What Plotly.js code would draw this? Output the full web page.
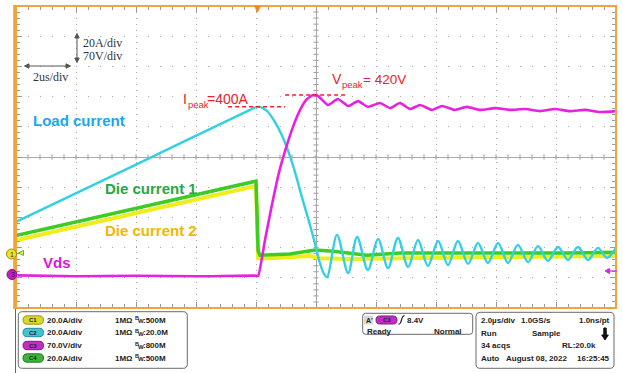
<!DOCTYPE html>
<html><head><meta charset="utf-8">
<script src="https://cdn.plot.ly/plotly-3.0.1.min.js"></script>
<style>html,body{margin:0;padding:0;background:#fff;}#chart{width:623px;height:373px;}</style>
</head><body><div id="chart"></div>
<script>
// time in microseconds (2 us/div), amplitude in screen divisions
const loadT = [-10.00, -6.00, -2.20, -2.03, -1.90, -1.77, -1.60, -1.37, -1.13, -0.93, -0.70, -0.47, -0.23, -0.03, 0.13, 0.27, 0.37, 0.70, 1.07, 1.37, 1.73, 2.07, 2.40, 2.73, 3.07, 3.40, 3.73, 4.07, 4.40, 4.73, 5.07, 5.40, 5.73, 6.07, 6.40, 6.73, 7.07, 7.40, 7.73, 8.07, 8.40, 8.73, 9.07, 9.40, 9.70, 10.00];
const loadY = [-2.15, -0.25, 1.56, 1.64, 1.66, 1.62, 1.49, 1.16, 0.70, 0.20, -0.50, -1.33, -2.15, -2.88, -3.51, -3.88, -3.98, -2.58, -3.84, -2.65, -3.74, -2.72, -3.68, -2.68, -3.64, -2.75, -3.61, -2.78, -3.58, -2.78, -3.54, -2.85, -3.51, -2.85, -3.51, -2.91, -3.48, -2.95, -3.44, -2.98, -3.41, -2.98, -3.41, -3.01, -3.34, -3.00];

const vdsT = [-9.95, -8.00, -6.00, -4.00, -2.00, -1.93, -1.70, -1.47, -1.23, -1.00, -0.77, -0.53, -0.30, -0.10, 0.07, 0.40, 0.73, 1.07, 1.40, 1.73, 2.13, 2.47, 2.80, 3.13, 3.47, 3.87, 4.20, 4.63, 5.03, 5.47, 5.97, 6.47, 6.97, 7.47, 7.97, 8.47, 8.97, 9.47, 10.00];
const vdsY = [-3.92, -3.95, -3.93, -3.95, -3.93, -3.94, -2.75, -1.59, -0.50, 0.30, 0.99, 1.56, 1.92, 2.05, 2.02, 1.72, 1.92, 1.69, 1.85, 1.66, 1.79, 1.62, 1.79, 1.59, 1.72, 1.56, 1.69, 1.56, 1.66, 1.56, 1.62, 1.56, 1.59, 1.52, 1.59, 1.52, 1.56, 1.49, 1.52];

const die1T = [-10.00, -2.00, -1.93, -1.87, -0.87, -0.03, 0.57, 1.70, 2.80, 4.47, 6.13, 8.37, 10.00];
const die1Y = [-2.60, -0.80, -3.10, -3.25, -3.21, -3.08, -3.12, -3.25, -3.18, -3.18, -3.18, -3.18, -3.15];

const die2T = [-10.00, -2.00, -1.93, -1.53, -0.20, 0.13, 1.13, 2.80, 6.13, 10.00];
const die2Y = [-2.76, -0.96, -3.35, -3.35, -3.28, -3.35, -3.38, -3.35, -3.31, -3.28];

const labels = {load: 'Load current', die1: 'Die current 1', die2: 'Die current 2', vds: 'Vds'};
const ipeakParts = ['I', 'peak', '=400A'];
const vpeakParts = ['V', 'peak', '= 420V'];

const chRows = [
  {ch: 'C1', scale: '20.0A/div', imp: '1M\u03A9', bw: '500M', fill: '#d8d82a', edge: '#9a9a10'},
  {ch: 'C2', scale: '20.0A/div', imp: '1M\u03A9', bw: '20.0M', fill: '#40c4d0', edge: '#2a8a94'},
  {ch: 'C3', scale: '70.0V/div', imp: '', bw: '800M', fill: '#c42cc4', edge: '#801880'},
  {ch: 'C4', scale: '20.0A/div', imp: '1M\u03A9', bw: '500M', fill: '#3cb43c', edge: '#207a20'}
];

// ---- layout helpers (pixel -> paper) ----
const L = 16, T = 6, W = 600, H = 302;
const px = x => (x - L) / W;
const py = y => (T + H - y) / H;
const shapes = [];
const ann = [];
function txt(x, y, text, o) {
  o = o || {};
  ann.push({xref: 'paper', yref: 'paper', x: px(x), y: py(y), text: text, showarrow: false,
    xanchor: o.xa || 'left', yanchor: 'middle', borderpad: 0,
    font: {family: o.fam || 'Liberation Sans, Arial, sans-serif', size: o.size || 8, color: o.color || '#222'}});
}
function rr(x0, y0, x1, y1, r, line, fill, lw) {
  const P = (x, y) => px(x).toFixed(5) + ',' + py(y).toFixed(5);
  const d = 'M' + P(x0 + r, y0) + ' L' + P(x1 - r, y0) + ' Q' + P(x1, y0) + ' ' + P(x1, y0 + r) +
    ' L' + P(x1, y1 - r) + ' Q' + P(x1, y1) + ' ' + P(x1 - r, y1) + ' L' + P(x0 + r, y1) +
    ' Q' + P(x0, y1) + ' ' + P(x0, y1 - r) + ' L' + P(x0, y0 + r) + ' Q' + P(x0, y0) + ' ' + P(x0 + r, y0) + ' Z';
  shapes.push({type: 'path', xref: 'paper', yref: 'paper', path: d, line: {color: line, width: lw || 1}, fillcolor: fill || 'rgba(0,0,0,0)', layer: 'above'});
}
function poly(pts, fill, line) {
  const d = pts.map((p, i) => (i ? 'L' : 'M') + px(p[0]).toFixed(5) + ',' + py(p[1]).toFixed(5)).join(' ') + ' Z';
  shapes.push({type: 'path', xref: 'paper', yref: 'paper', path: d, fillcolor: fill, line: {color: line || fill, width: 1}, layer: 'above'});
}
function seg(x0, y0, x1, y1, color, w) {
  shapes.push({type: 'line', xref: 'paper', yref: 'paper', x0: px(x0), y0: py(y0), x1: px(x1), y1: py(y1), line: {color: color, width: w || 1}, layer: 'above'});
}

// center-cross graticule ticks
for (let k = -25; k <= 25; k++) {
  const yv = k * 0.2;
  shapes.push({type: 'line', xref: 'x', yref: 'y', x0: -0.085, x1: 0.085, y0: yv, y1: yv, line: {color: '#9a9a9a', width: 1}, layer: 'below'});
  const xv = k * 0.4;
  shapes.push({type: 'line', xref: 'x', yref: 'y', x0: xv, x1: xv, y0: -0.085, y1: 0.085, line: {color: '#9a9a9a', width: 1}, layer: 'below'});
}

// peak marker dashed lines (at the traces' maxima)
const iPk = Math.max(...loadY), vPk = Math.max(...vdsY);
shapes.push({type: 'line', xref: 'x', yref: 'y', x0: -2.93, x1: -1.03, y0: iPk, y1: iPk, line: {color: '#e8232a', width: 1.5, dash: '4px,3px'}, layer: 'above'});
shapes.push({type: 'line', xref: 'x', yref: 'y', x0: -1.03, x1: 1.07, y0: vPk, y1: vPk, line: {color: '#e8232a', width: 1.5, dash: '4px,3px'}, layer: 'above'});

// orange frame
shapes.push({type: 'rect', xref: 'paper', yref: 'paper', x0: 0, x1: 1, y0: 0, y1: 1, line: {color: '#f2a33a', width: 2}, layer: 'above'});
seg(14.7, 5, 14.7, 309, '#f2a33a', 3);
seg(15.5, 309, 15.5, 373, '#666', 1);

// trigger marker
poly([[254.5, 6], [260.5, 6], [257.5, 12]], '#f08a20');

// ground markers
shapes.push({type: 'circle', xref: 'paper', yref: 'paper', x0: px(6.5), x1: px(16.5), y0: py(249), y1: py(259), fillcolor: '#eee030', line: {color: '#a09000', width: 1}, layer: 'above'});
txt(9.3, 254.3, '1', {size: 7, color: '#333'});
shapes.push({type: 'circle', xref: 'paper', yref: 'paper', x0: px(7), x1: px(17), y0: py(269.5), y1: py(279.5), fillcolor: '#c020c0', line: {color: '#801080', width: 1}, layer: 'above'});
txt(9.8, 274.8, '3', {size: 7, color: '#400040'});
poly([[18.5, 253], [23.5, 250.5], [23.5, 255.5]], '#e8f040', '#50c030');
// right-side offset arrow
poly([[605, 271], [609.5, 268.5], [609.5, 273.5]], '#e020e0');
seg(609, 271, 617, 271, '#e020e0', 1.2);

// scale arrows top-left (double-headed)
seg(77, 37, 77, 59, '#555', 1);
poly([[77, 33.5], [74.8, 38], [79.2, 38]], '#555');
poly([[77, 62.5], [74.8, 58], [79.2, 58]], '#555');
seg(28, 66, 67, 66, '#555', 1);
poly([[24.5, 66], [29, 63.8], [29, 68.2]], '#555');
poly([[70.5, 66], [66, 63.8], [66, 68.2]], '#555');
const serif = 'Liberation Serif, Times New Roman, serif';
txt(82, 43, '20A/div', {fam: serif, size: 12, color: '#333'});
txt(82, 56, '70V/div', {fam: serif, size: 12, color: '#333'});
txt(32, 77, '2us/div', {fam: serif, size: 12, color: '#333'});

// trace labels
txt(32, 120, '<b>' + labels.load + '</b>', {size: 15, color: '#1aa9e6'});
txt(104, 188, '<b>' + labels.die1 + '</b>', {size: 15, color: '#25a848'});
txt(104, 230, '<b>' + labels.die2 + '</b>', {size: 15, color: '#f2b705'});
txt(42, 262, '<b>' + labels.vds + '</b>', {size: 15, color: '#e014d8'});
const red = '#e8232a';
txt(182, 99, ipeakParts[0], {size: 14, color: red});
txt(187.3, 104, ipeakParts[1], {size: 9.5, color: red});
txt(206, 99, ipeakParts[2], {size: 14, color: red});
txt(331, 79, vpeakParts[0], {size: 14, color: red});
txt(341, 84, vpeakParts[1], {size: 9.5, color: red});
txt(361.5, 79, vpeakParts[2], {size: 13.5, color: red});

// ---- bottom status panels ----
rr(18.3, 311.7, 187.3, 368.3, 4, '#6a6a6a');
const rowY = [320, 332.5, 345.5, 358];
chRows.forEach((r, i) => {
  const y = rowY[i];
  rr(23, y - 4.2, 43.5, y + 4.2, 4.2, r.edge, r.fill);
  txt(33.2, y, '<b>' + r.ch + '</b>', {size: 6, color: '#222', xa: 'center'});
  txt(46, y, '<b>' + r.scale + '</b>');
  if (r.imp) txt(114, y, '<b>' + r.imp + '</b>');
  txt(134, y - 1.8, '<b>B</b>', {size: 5.5});
  txt(137.3, y + 1.2, '<b>W</b>', {size: 6});
  txt(142, y, '<b>:' + r.bw + '</b>');
});

rr(362.7, 313.3, 472.7, 334.3, 3, '#6a6a6a');
shapes.push({type: 'rect', xref: 'paper', yref: 'paper', x0: px(364), x1: px(373), y0: py(315.5), y1: py(324.5), fillcolor: '#d8d8d8', line: {width: 0}, layer: 'above'});
txt(365, 320, '<b>A\'</b>', {size: 7});
rr(376, 316, 397, 324, 4, '#801880', '#c42cc4');
txt(386.5, 320, '<b>C3</b>', {size: 6, color: '#222', xa: 'center'});
shapes.push({type: 'path', xref: 'paper', yref: 'paper', layer: 'above', line: {color: '#222', width: 1.2},
  path: 'M' + px(398.5) + ',' + py(324) + ' Q' + px(400.5) + ',' + py(324.5) + ' ' + px(401.5) + ',' + py(320) + ' Q' + px(402.5) + ',' + py(315.5) + ' ' + px(404.5) + ',' + py(316)});
txt(406, 320, '<b>8.4V</b>');
txt(366, 331, '<b>Ready</b>');
txt(463, 331, '<b>Normal</b>', {xa: 'right'});

rr(476, 312.3, 614, 368.3, 4, '#6a6a6a');
txt(480, 320, '<b>2.0\u00B5s/div</b>');
txt(520, 320, '<b>1.0GS/s</b>');
txt(611, 320, '<b>1.0ns/pt</b>', {xa: 'right'});
txt(480, 333, '<b>Run</b>');
txt(531, 333, '<b>Sample</b>');
poly([[603.8, 328], [606.2, 328], [606.2, 335], [608.3, 335], [605, 340], [601.7, 335], [603.8, 335]], '#111');
txt(480, 345.7, '<b>34 acqs</b>');
txt(597, 345.7, '<b>RL:20.0k</b>', {xa: 'right'});
txt(480, 358.3, '<b>Auto</b>');
txt(505, 358.3, '<b>August 08, 2022</b>');
txt(611, 358.3, '<b>16:25:45</b>', {xa: 'right'});

const traces = [
  {x: die2T, y: die2Y, mode: 'lines', line: {color: '#eeee1a', width: 4}, name: labels.die2},
  {x: die1T, y: die1Y, mode: 'lines', line: {color: '#3ccc22', width: 3.5}, name: labels.die1},
  {x: loadT, y: loadY, mode: 'lines', line: {color: '#33d0e2', width: 2.4, shape: 'spline', smoothing: 0.9}, name: labels.load},
  {x: vdsT, y: vdsY, mode: 'lines', line: {color: '#e622e0', width: 2.6, shape: 'spline', smoothing: 0.5}, name: labels.vds}
];

const axBase = {showticklabels: false, ticks: 'inside', ticklen: 6, tickcolor: '#999', mirror: 'ticks', showline: false,
  zeroline: true, zerolinecolor: '#a8a8a8', zerolinewidth: 1, gridcolor: '#a8a8a8', gridwidth: 1, fixedrange: true};

const layout = {
  width: 623, height: 373,
  margin: {l: L, r: 623 - L - W, t: T, b: 373 - T - H},
  paper_bgcolor: '#fff', plot_bgcolor: '#fff',
  showlegend: false,
  xaxis: Object.assign({}, axBase, {range: [-10, 10], tick0: -10, dtick: 2, griddash: '1px,5px',
    minor: {dtick: 0.4, ticks: 'inside', ticklen: 4, tickcolor: '#999', showgrid: false}}),
  yaxis: Object.assign({}, axBase, {range: [-5, 5], tick0: -5, dtick: 1, griddash: '1px,11px',
    minor: {dtick: 0.2, ticks: 'inside', ticklen: 4, tickcolor: '#999', showgrid: false}}),
  shapes: shapes,
  annotations: ann
};

Plotly.newPlot('chart', traces, layout, {displayModeBar: false, staticPlot: true});
</script></body></html>
